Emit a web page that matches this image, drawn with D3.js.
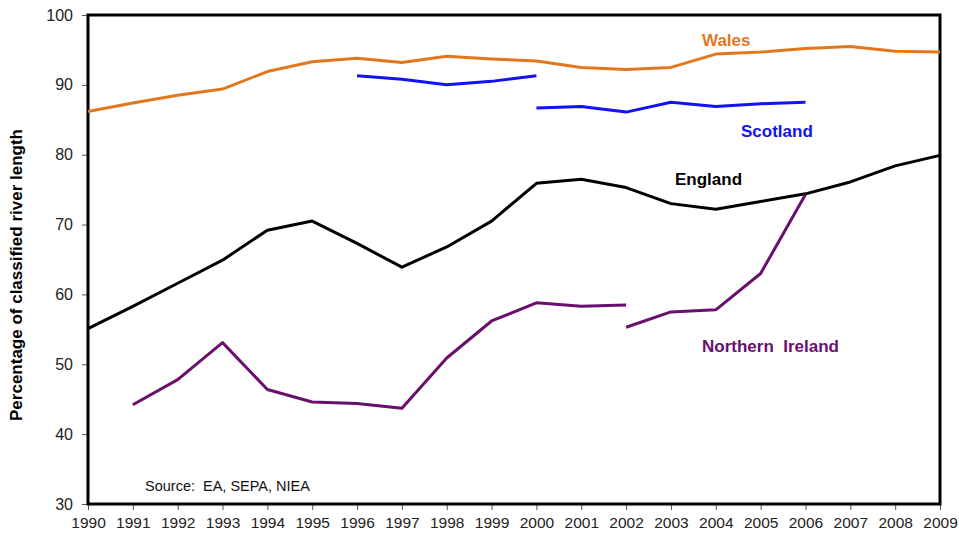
<!DOCTYPE html>
<html>
<head>
<meta charset="utf-8">
<script src="https://cdn.jsdelivr.net/npm/d3@7"></script>
<style>
  html, body { margin: 0; padding: 0; background: #fff; }
  svg { display: block; font-family: "Liberation Sans", Arial, sans-serif; }
</style>
</head>
<body>
<svg id="chart" width="959" height="534"></svg>
<script>
// ---- data ----
const years = [1990,1991,1992,1993,1994,1995,1996,1997,1998,1999,2000,2001,2002,2003,2004,2005,2006,2007,2008,2009];
const wales      = [86.2,87.4,88.5,89.4,91.9,93.3,93.8,93.2,94.1,93.7,93.4,92.5,92.2,92.5,94.4,94.7,95.2,95.5,94.8,94.7];
const england    = [55.1,58.3,61.6,64.9,69.2,70.5,67.3,63.9,66.8,70.5,75.9,76.5,75.3,73.0,72.2,73.3,74.4,76.1,78.4,79.9];
const scotlandOld= [null,null,null,null,null,null,91.3,90.8,90.0,90.5,91.3,null,null,null,null,null,null,null,null,null];
const scotlandNew= [null,null,null,null,null,null,null,null,null,null,86.7,86.9,86.1,87.5,86.9,87.3,87.5,null,null,null];
const niOld      = [null,44.2,47.8,53.1,46.4,44.6,44.4,43.7,50.9,56.2,58.8,58.3,58.5,null,null,null,null,null,null,null];
const niNew      = [null,null,null,null,null,null,null,null,null,null,null,null,55.3,57.5,57.8,63.0,74.3,null,null,null];
const yTicks = [30,40,50,60,70,80,90,100];
const xTicks = years;
const seriesNames = ["Wales", "Scotland", "England", "Northern  Ireland"];
const yTitle = "Percentage of classified river length";
const sourceText = "Source:  EA, SEPA, NIEA";

const colors = {
  "Wales": "#E2781E",
  "Scotland": "#1212F2",
  "England": "#000000",
  "Northern  Ireland": "#6A0F6E"
};
const seriesList = [
  { name: "Wales",             values: wales },
  { name: "Scotland",          values: scotlandOld },
  { name: "Scotland",          values: scotlandNew },
  { name: "England",           values: england },
  { name: "Northern  Ireland", values: niOld },
  { name: "Northern  Ireland", values: niNew }
];

// ---- layout ----
const svg = d3.select("#chart");
const mLeft = 88, mRight = 940, mTop = 15, mBottom = 504;
const x = d3.scaleLinear().domain([1990, 2009]).range([mLeft, mRight]);
const y = d3.scaleLinear().domain([30, 100]).range([mBottom, mTop]);

// axes
const yAxis = svg.append("g")
  .attr("transform", `translate(${mLeft},0)`)
  .call(d3.axisLeft(y).tickValues(yTicks).tickSize(6).tickPadding(9).tickFormat(d3.format("d")));
yAxis.select(".domain").remove();
yAxis.selectAll(".tick line").attr("stroke", "#555").attr("stroke-width", 1);
yAxis.selectAll(".tick text").attr("fill", "#222").style("font-size", "16px");

const xAxis = svg.append("g")
  .attr("transform", `translate(0,${mBottom})`)
  .call(d3.axisBottom(x).tickValues(xTicks).tickSize(6).tickPadding(7).tickFormat(d3.format("d")));
xAxis.select(".domain").remove();
xAxis.selectAll(".tick line").attr("stroke", "#555").attr("stroke-width", 1);
xAxis.selectAll(".tick text").attr("fill", "#222").style("font-size", "15.5px");

// frame
svg.append("rect")
  .attr("x", mLeft).attr("y", mTop)
  .attr("width", mRight - mLeft).attr("height", mBottom - mTop)
  .attr("fill", "none").attr("stroke", "#000").attr("stroke-width", 3);

// lines
const line = d3.line()
  .defined(d => d.v !== null)
  .x(d => x(d.year))
  .y(d => y(d.v));

svg.append("g").selectAll("path")
  .data(seriesList)
  .join("path")
  .attr("d", s => line(years.map((yr, i) => ({ year: yr, v: s.values[i] }))))
  .attr("fill", "none")
  .attr("stroke", s => colors[s.name])
  .attr("stroke-width", 3)
  .attr("stroke-linejoin", "round");

// series labels
const labelPos = {
  "Wales": [702, 46],
  "Scotland": [741, 137],
  "England": [675, 185],
  "Northern  Ireland": [702, 352]
};
svg.append("g").selectAll("text")
  .data(seriesNames)
  .join("text")
  .attr("x", d => labelPos[d][0])
  .attr("y", d => labelPos[d][1])
  .attr("fill", d => colors[d])
  .style("font-size", "17px")
  .style("font-weight", "bold")
  .style("white-space", "pre")
  .text(d => d);

// source
svg.append("text")
  .attr("x", 145).attr("y", 491)
  .attr("fill", "#111")
  .style("font-size", "14.5px")
  .style("white-space", "pre")
  .text(sourceText);

// y title
svg.append("text")
  .attr("transform", "translate(22,275) rotate(-90)")
  .attr("text-anchor", "middle")
  .attr("fill", "#000")
  .style("font-size", "17px")
  .style("font-weight", "bold")
  .text(yTitle);
</script>
</body>
</html>
